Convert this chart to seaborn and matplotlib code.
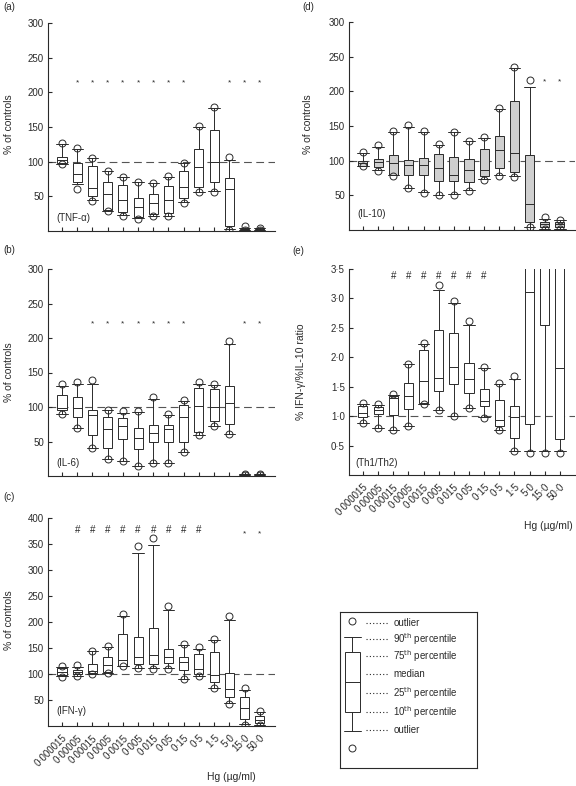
import matplotlib
matplotlib.use("Agg")
import matplotlib.pyplot as plt
import seaborn as sns

# Hg doses (x categories)
doses = ["0·000015", "0·00005", "0·00015", "0·0005", "0·0015", "0·005", "0·015",
         "0·05", "0·15", "0·5", "1·5", "5·0", "15·0", "50·0"]

# each box: (low outlier, 10th, 25th, median, 75th, 90th, high outlier)
tnf = [(96, 97, 98, 103, 107, 125, 127), (61, 68, 70, 82, 98, 118, 120),
       (43, 45, 50, 62, 94, 105, 106), (29, 29, 31, 53, 71, 87, 87),
       (22, 23, 27, 45, 67, 78, 78), (18, 19, 20, 34, 47, 70, 70),
       (21, 22, 25, 41, 54, 69, 69), (22, 22, 26, 44, 65, 78, 79),
       (40, 42, 48, 63, 86, 98, 98), (56, 56, 64, 92, 118, 150, 151),
       (56, 57, 70, 100, 145, 178, 179), (2, 3, 7, 60, 77, 103, 107),
       (1, 1, 1.5, 2, 3, 5, 7), (1, 1, 1.5, 2, 2.5, 4, 5)]
il6 = [(90, 90, 95, 99, 118, 131, 133), (70, 70, 86, 99, 115, 133, 136),
       (40, 41, 60, 88, 96, 134, 139), (25, 25, 40, 68, 85, 96, 96),
       (22, 22, 54, 72, 84, 92, 94), (15, 15, 39, 55, 69, 93, 94),
       (19, 19, 49, 63, 74, 112, 114), (19, 19, 50, 68, 74, 88, 90),
       (35, 35, 50, 86, 103, 108, 110), (59, 60, 64, 102, 128, 133, 136),
       (73, 73, 80, 100, 126, 132, 134), (61, 61, 75, 106, 130, 192, 195),
       (1, 1, 1.5, 2, 2.5, 3, 3), (1, 1, 1.5, 2, 2.5, 3, 3)]
ifn = [(95, 96, 98, 103, 111, 114, 116), (96, 97, 100, 103, 108, 114, 117),
       (100, 100, 101, 106, 119, 144, 145), (101, 101, 104, 117, 133, 151, 153),
       (115, 116, 116, 126, 177, 212, 215), (111, 112, 120, 133, 172, 332, 347),
       (110, 111, 120, 137, 189, 348, 362), (109, 111, 122, 132, 149, 223, 231),
       (90, 90, 108, 124, 133, 156, 157), (96, 96, 100, 109, 138, 149, 151),
       (74, 74, 85, 99, 143, 165, 168), (42, 45, 56, 72, 101, 204, 212),
       (2, 4, 13, 34, 56, 69, 74), (1, 2, 6, 12, 19, 26, 29)]
il10 = [(92, 92, 93, 96, 100, 111, 112), (85, 86, 91, 98, 103, 120, 122),
        (78, 79, 80, 96, 108, 142, 143), (61, 61, 79, 94, 101, 148, 152),
        (54, 55, 79, 94, 104, 142, 143), (50, 51, 70, 89, 109, 123, 124),
        (51, 52, 70, 79, 106, 141, 141), (56, 57, 69, 86, 102, 128, 129),
        (72, 73, 78, 86, 117, 133, 134), (78, 79, 90, 115, 135, 175, 176),
        (77, 78, 84, 111, 186, 233, 235), (4, 4, 12, 37, 108, 206, 216),
        (1.5, 2, 5, 8, 12, 16, 19), (1, 1.5, 5, 8, 11, 14, 15)]
ratio = [(0.89, 0.89, 0.98, 1.06, 1.17, 1.21, 1.22), (0.80, 0.80, 1.04, 1.10, 1.16, 1.19, 1.20),
         (0.76, 0.76, 1.02, 1.30, 1.34, 1.36, 1.37), (0.84, 0.84, 1.12, 1.34, 1.57, 1.88, 1.88),
         (1.20, 1.21, 1.22, 1.60, 2.13, 2.23, 2.25), (1.10, 1.10, 1.42, 1.64, 2.47, 3.15, 3.22),
         (1.01, 1.01, 1.54, 1.83, 2.42, 2.93, 2.95), (1.13, 1.13, 1.40, 1.63, 1.90, 2.55, 2.61),
         (0.97, 0.98, 1.17, 1.25, 1.46, 1.82, 1.84), (0.77, 0.77, 0.83, 0.93, 1.27, 1.54, 1.57),
         (0.40, 0.40, 0.63, 0.98, 1.17, 1.63, 1.69), (0.38, 0.40, 0.87, 3.11, 4.5, 5.5, 6.0),
         (0.38, 0.40, 2.55, 4.0, 5.0, 6.0, 6.5), (0.38, 0.40, 0.61, 1.82, 4.5, 5.5, 6.0)]

# significance marks (category index lists)
tnf_star = [1, 2, 3, 4, 5, 6, 7, 8, 11, 12, 13]
il6_star = [2, 3, 4, 5, 6, 7, 8, 12, 13]
ifn_hash = [1, 2, 3, 4, 5, 6, 7, 8, 9]
ifn_star = [12, 13]
il10_star = [12, 13]
ratio_hash = [2, 3, 4, 5, 6, 7, 8]

W, H = 576, 786
sns.set_theme(style="ticks")
plt.rcParams['font.family'] = ['Liberation Sans', 'DejaVu Sans']
plt.rcParams['axes.linewidth'] = 0.8
LC = '#2a2a2a'

fig = plt.figure(figsize=(W / 100, H / 100), dpi=100)


def px_axes(l, t, r, b):
    return fig.add_axes([l / W, 1 - b / H, (r - l) / W, (b - t) / H])


def ftext(x, y, s, **kw):
    kw.setdefault('fontsize', 7)
    kw.setdefault('va', 'center')
    fig.text(x / W, 1 - y / H, s, **kw)


def panel(ax, data, ymax, yticks, ref, fill, show_x):
    stats = [dict(whislo=d[1], q1=d[2], med=d[3], q3=d[4], whishi=d[5],
                  fliers=[d[0], d[6]]) for d in data]
    ax.axhline(ref, color='#555555', lw=0.8, ls=(0, (7, 4)), zorder=0)
    ax.bxp(stats, positions=list(range(len(data))), widths=0.6, capwidths=0.75,
           patch_artist=True,
           boxprops=dict(facecolor=fill, edgecolor=LC, linewidth=0.7),
           medianprops=dict(color=LC, linewidth=0.7),
           whiskerprops=dict(color=LC, linewidth=0.7),
           capprops=dict(color=LC, linewidth=0.7),
           flierprops=dict(marker='o', markerfacecolor='none', markeredgecolor=LC,
                           markersize=5, markeredgewidth=0.7))
    ax.set_xlim(-0.92, 14.0)
    ax.set_ylim(0, ymax)
    ax.set_yticks(yticks)
    ax.set_yticklabels([str(t).replace('.', '·') for t in yticks])
    ax.set_xticks(range(len(data)))
    if show_x:
        ax.set_xticklabels(doses, rotation=45, ha='right', rotation_mode='anchor')
    else:
        ax.set_xticklabels([])
    ax.tick_params(direction='in', length=3, width=0.8, labelsize=7, colors=LC,
                   pad=3)
    ax.tick_params(axis='x', pad=5)
    ax.set_facecolor('none')
    sns.despine(ax=ax)
    for s in ('left', 'bottom'):
        ax.spines[s].set_color(LC)


def marks(ax, idx, y, ch, size):
    for i in idx:
        ax.text(i, y, ch, ha='center', va='center', fontsize=size, color=LC)


ax_a = px_axes(48, 23, 275, 231)
panel(ax_a, tnf, 300, [50, 100, 150, 200, 250, 300], 100, 'white', False)
marks(ax_a, tnf_star, 214, '*', 6)

ax_b = px_axes(48, 269, 275, 476)
panel(ax_b, il6, 300, [50, 100, 150, 200, 250, 300], 100, 'white', False)
marks(ax_b, il6_star, 220, '*', 6)

ax_c = px_axes(48, 518, 275, 726)
panel(ax_c, ifn, 400, [50, 100, 150, 200, 250, 300, 350, 400], 100, 'white', True)
marks(ax_c, ifn_hash, 377, '#', 7)
marks(ax_c, ifn_star, 369, '*', 6)

ax_d = px_axes(349, 22, 575, 230)
panel(ax_d, il10, 300, [50, 100, 150, 200, 250, 300], 100, '#cfcfcf', False)
marks(ax_d, il10_star, 213, '*', 6)

ax_e = px_axes(349, 269, 575, 475)
panel(ax_e, ratio, 3.5, [0.5, 1.0, 1.5, 2.0, 2.5, 3.0, 3.5], 1.0, 'white', True)
marks(ax_e, ratio_hash, 3.38, '#', 7)

# panel letters, axis titles and inner labels
for x, y, s in [(3, 7, '(a)'), (3, 250, '(b)'), (3, 497, '(c)'),
                (302, 7, '(d)'), (292, 251, '(e)')]:
    ftext(x, y, s, color=LC)
for x, y in [(9, 124), (9, 372), (9, 620), (308, 124)]:
    ftext(x, y, '% of controls', rotation=90, ha='center', fontsize=7.5, color=LC)
ftext(301, 372, '% IFN-γ/%IL-10 ratio', rotation=90, ha='center', fontsize=7.5, color=LC)
for x, y, s in [(56, 218, '(TNF-α)'), (56, 463, '(IL-6)'), (56, 711, '(IFN-γ)'),
                (357, 214, '(IL-10)'), (355, 463, '(Th1/Th2)')]:
    ftext(x, y, s, color=LC)
ftext(231, 777, 'Hg (µg/ml)', ha='center', fontsize=7.5, color=LC)
ftext(548, 526, 'Hg (µg/ml)', ha='center', fontsize=7.5, color=LC)

# key explaining the box symbols
lg = px_axes(340, 612, 477, 768)
lg.set_xlim(0, 1)
lg.set_ylim(0, 1)
lg.set_xticks([])
lg.set_yticks([])
for s in lg.spines.values():
    s.set_linewidth(0.8)
    s.set_color(LC)
ky = lambda y: (768 - y) / 156
sx = 0.09
lg.bxp([dict(whislo=ky(731), q1=ky(712), med=ky(682), q3=ky(652), whishi=ky(637),
             fliers=[ky(621), ky(748)])], positions=[sx], widths=0.11, capwidths=0.12,
       patch_artist=True, manage_ticks=False,
       boxprops=dict(facecolor='white', edgecolor=LC, linewidth=0.7),
       medianprops=dict(color=LC, linewidth=0.7),
       whiskerprops=dict(color=LC, linewidth=0.7),
       capprops=dict(color=LC, linewidth=0.7),
       flierprops=dict(marker='o', markerfacecolor='none', markeredgecolor=LC,
                       markersize=5, markeredgewidth=0.7))
lg.set_xlim(0, 1)
lg.set_ylim(0, 1)
key_rows = [(623, 621, 'outlier'), (639, 637, '90$^{\\rm th}$ percentile'),
            (656, 652, '75$^{\\rm th}$ percentile'), (674, 682, 'median'),
            (693, 712, '25$^{\\rm th}$ percentile'), (712, 731, '10$^{\\rm th}$ percentile'),
            (730, 748, 'outlier')]
for ty, sy, s in key_rows:
    lg.plot([0.19, 0.36], [ky(ty), ky(ty)], ls=(0, (1, 2)), color=LC, lw=0.8)
    lg.text(0.39, ky(ty), s, fontsize=7, va='center', color=LC)

fig.savefig('out.png', dpi=100)
